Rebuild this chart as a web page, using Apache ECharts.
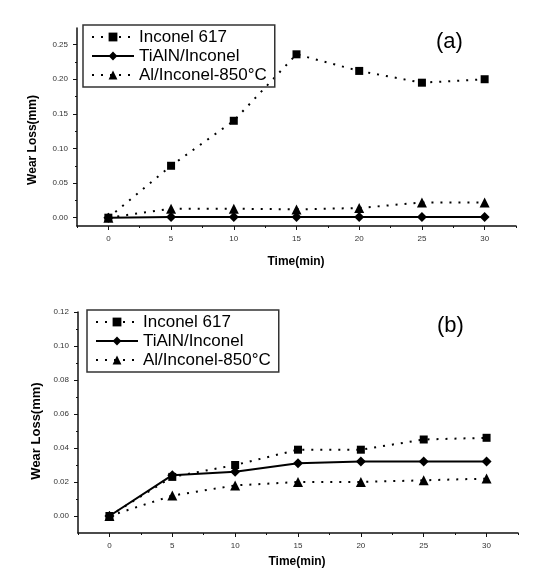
<!DOCTYPE html>
<html><head><meta charset="utf-8">
<script src="https://cdn.jsdelivr.net/npm/echarts@6/dist/echarts.min.js"></script>
<style>html,body{margin:0;padding:0;background:#fff}#c{width:553px;height:585px}</style>
</head><body><div id="c"></div>
<script>
const seriesNames = ['Inconel 617', 'TiAlN/Inconel', 'Al/Inconel-850°C'];
const timeVals = [0, 5, 10, 15, 20, 25, 30];
const aInconel = [0, 0.075, 0.140, 0.236, 0.212, 0.195, 0.200];
const aTiAlN = [0, 0.001, 0.001, 0.001, 0.001, 0.001, 0.001];
const aAl = [0, 0.013, 0.013, 0.012, 0.014, 0.022, 0.022];
const bInconel = [0, 0.023, 0.030, 0.039, 0.039, 0.045, 0.046];
const bTiAlN = [0, 0.024, 0.026, 0.031, 0.032, 0.032, 0.032];
const bAl = [0, 0.012, 0.018, 0.020, 0.020, 0.021, 0.022];
const xTicks = [0, 5, 10, 15, 20, 25, 30];
const xMinor = [-2.5, 2.5, 7.5, 12.5, 17.5, 22.5, 27.5, 32.5];
const aYTicks = [0, 0.05, 0.10, 0.15, 0.20, 0.25];
const aYMinor = [0.025, 0.075, 0.125, 0.175, 0.225];
const bYTicks = [0, 0.02, 0.04, 0.06, 0.08, 0.10, 0.12];
const bYMinor = [0.01, 0.03, 0.05, 0.07, 0.09, 0.11];

const FONT = 'Arial, "Liberation Sans", sans-serif';
const pair = (ys) => timeVals.map((t, i) => [t, ys[i]]);

function xAxes(gi) {
  return [{
    type: 'value', gridIndex: gi, position: 'bottom', min: -2.5, max: 32.5,
    axisLine: { show: true, onZero: false, lineStyle: { color: '#111', width: 1.5 } },
    axisTick: { show: true, customValues: xTicks, length: 4, lineStyle: { color: '#111' } },
    axisLabel: { show: true, customValues: xTicks, fontSize: 8, color: '#333', fontFamily: FONT, margin: 9 },
    splitLine: { show: false }
  }, {
    type: 'value', gridIndex: gi, position: 'bottom', min: -2.5, max: 32.5,
    axisLine: { show: false, onZero: false },
    axisTick: { show: true, customValues: xMinor, length: 2, lineStyle: { color: '#111' } },
    axisLabel: { show: false }, splitLine: { show: false }
  }];
}
function yAxes(gi, min, max, ticks, minor) {
  return [{
    type: 'value', gridIndex: gi, position: 'left', min: min, max: max,
    axisLine: { show: true, onZero: false, lineStyle: { color: '#111', width: 1.5 } },
    axisTick: { show: true, customValues: ticks, length: 4, lineStyle: { color: '#111' } },
    axisLabel: { show: true, customValues: ticks, fontSize: 8, color: '#333', fontFamily: FONT, margin: 9,
      formatter: v => v.toFixed(2) },
    splitLine: { show: false }
  }, {
    type: 'value', gridIndex: gi, position: 'left', min: min, max: max,
    axisLine: { show: false, onZero: false },
    axisTick: { show: true, customValues: minor, length: 2, lineStyle: { color: '#111' } },
    axisLabel: { show: false }, splitLine: { show: false }
  }];
}
const dotted = { color: '#000', width: 2, type: [2, 7] };
function mkSeries(xi, yi, d1, d2, d3) {
  return [
    { name: seriesNames[0], type: 'line', xAxisIndex: xi, yAxisIndex: yi, data: pair(d1),
      symbol: 'rect', symbolSize: 8, itemStyle: { color: '#000' }, lineStyle: dotted, z: 3 },
    { name: seriesNames[1], type: 'line', xAxisIndex: xi, yAxisIndex: yi, data: pair(d2),
      symbol: 'diamond', symbolSize: 10, itemStyle: { color: '#000' }, lineStyle: { color: '#000', width: 2 }, z: 4 },
    { name: seriesNames[2], type: 'line', xAxisIndex: xi, yAxisIndex: yi, data: pair(d3),
      symbol: 'triangle', symbolSize: 10, itemStyle: { color: '#000' }, lineStyle: dotted, z: 3 }
  ];
}
function legend(left, top) {
  return {
    orient: 'vertical', left: left, top: top, data: seriesNames,
    itemWidth: 42, itemHeight: 11, itemGap: 1,
    borderColor: '#333', borderWidth: 1.5, padding: [3, 8, 3, 8],
    textStyle: { fontSize: 17, color: '#000', fontFamily: FONT, lineHeight: 18 },
    selectedMode: false
  };
}
const chart = echarts.init(document.getElementById('c'));
chart.setOption({
  animation: false,
  backgroundColor: '#fff',
  grid: [
    { left: 77, right: 37, top: 28, bottom: 359 },
    { left: 78, right: 35, top: 312, bottom: 52 }
  ],
  xAxis: [...xAxes(0), ...xAxes(1)],
  yAxis: [...yAxes(0, -0.012, 0.274, aYTicks, aYMinor), ...yAxes(1, -0.01, 0.12, bYTicks, bYMinor)],
  legend: [legend(83, 25), legend(87, 310)],
  series: [...mkSeries(0, 0, aInconel, aTiAlN, aAl), ...mkSeries(2, 2, bInconel, bTiAlN, bAl)],
  graphic: [
    { type: 'text', left: 436, top: 31, style: { text: '(a)', font: '22px ' + FONT, fill: '#000' } },
    { type: 'text', left: 437, top: 315, style: { text: '(b)', font: '22px ' + FONT, fill: '#000' } },
    { type: 'text', x: 33, y: 140, rotation: Math.PI / 2, style: { text: 'Wear Loss(mm)', font: 'bold 12px ' + FONT, fill: '#000', align: 'center', verticalAlign: 'middle' } },
    { type: 'text', x: 36, y: 431, rotation: Math.PI / 2, style: { text: 'Wear Loss(mm)', font: 'bold 13px ' + FONT, fill: '#000', align: 'center', verticalAlign: 'middle' } },
    { type: 'text', x: 296, y: 262, style: { text: 'Time(min)', font: 'bold 12px ' + FONT, fill: '#000', align: 'center', verticalAlign: 'middle' } },
    { type: 'text', x: 297, y: 562, style: { text: 'Time(min)', font: 'bold 12px ' + FONT, fill: '#000', align: 'center', verticalAlign: 'middle' } }
  ]
});
</script></body></html>
